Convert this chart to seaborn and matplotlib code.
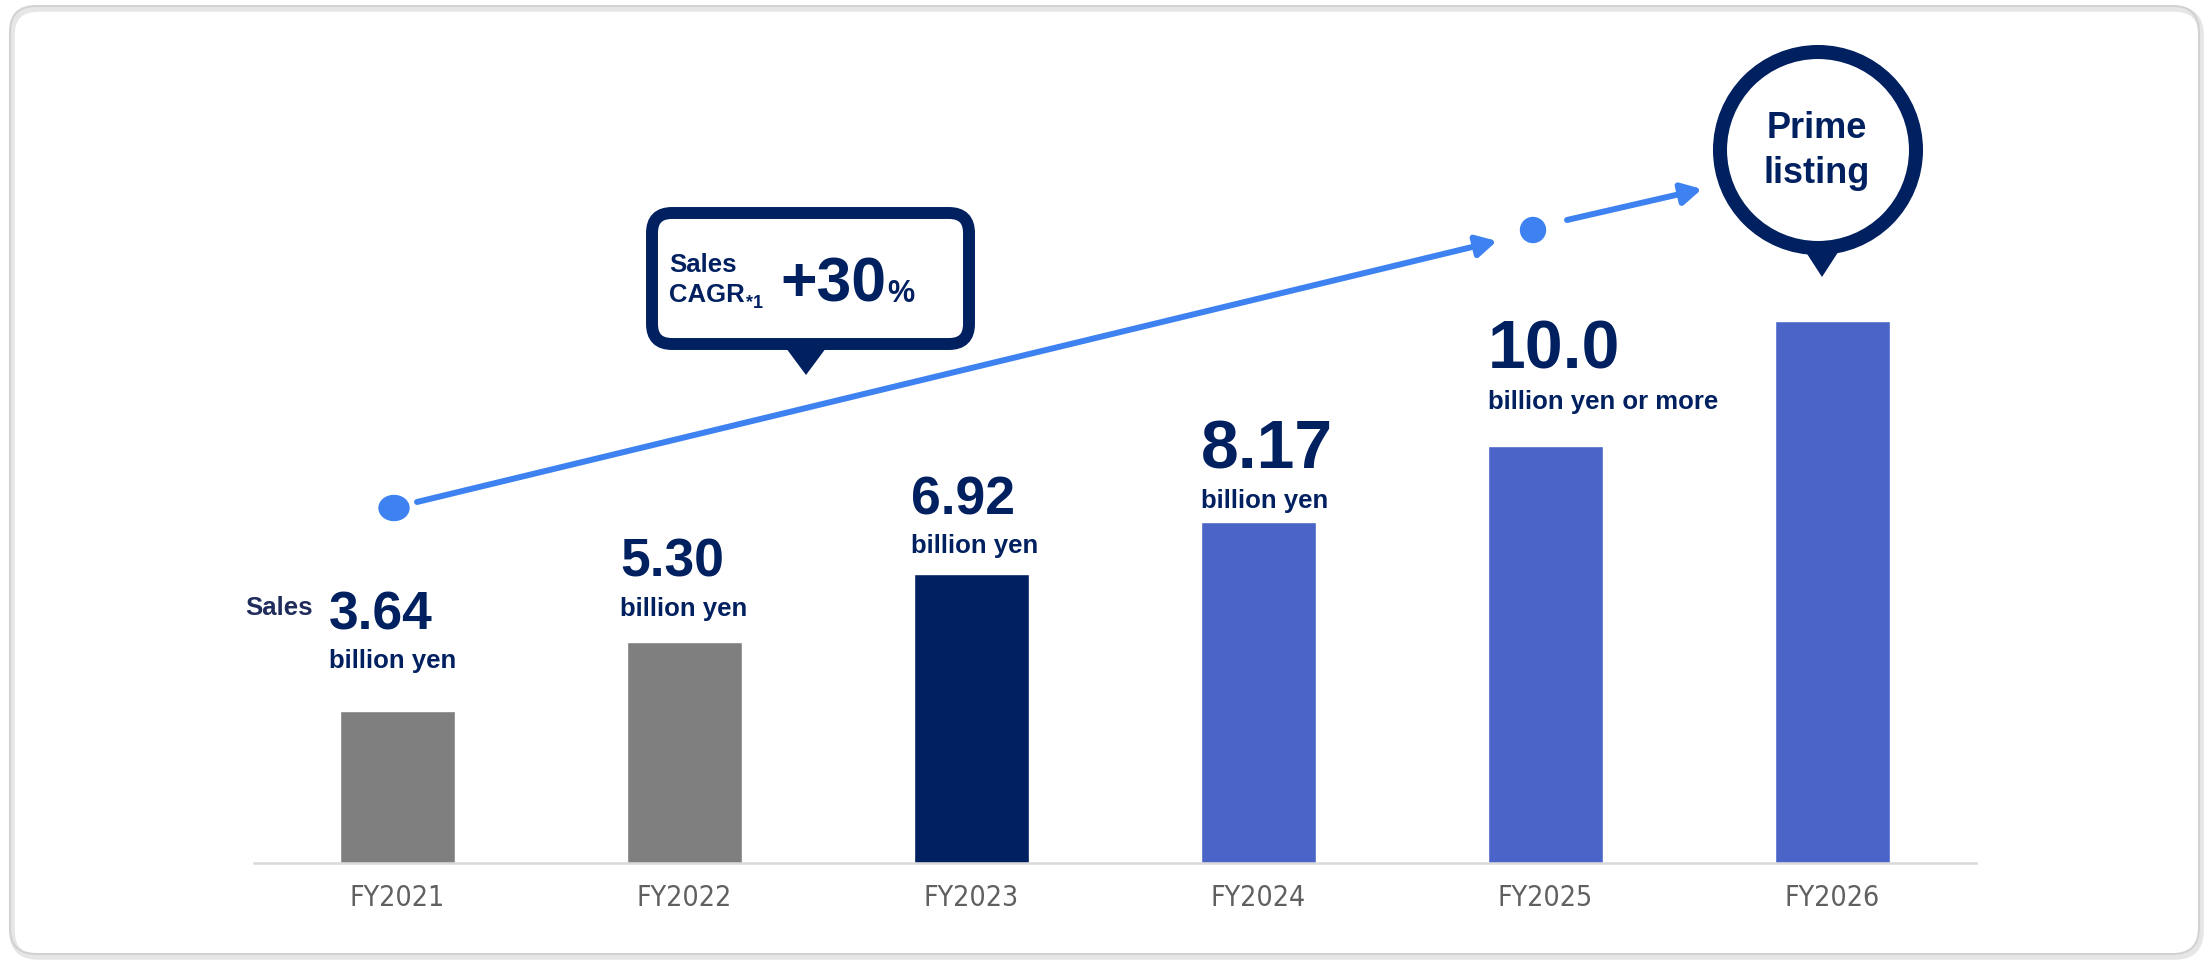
import matplotlib
matplotlib.use("Agg")
import matplotlib.pyplot as plt
import matplotlib.font_manager as fm
import seaborn as sns
from matplotlib.patches import FancyBboxPatch, Circle, Ellipse, Polygon, FancyArrowPatch, ArrowStyle

# ---- data ----
years = ["FY2021", "FY2022", "FY2023", "FY2024", "FY2025", "FY2026"]
sales = [3.64, 5.30, 6.92, 8.17, 10.0, 13.0]          # billion yen
value_labels = ["3.64", "5.30", "6.92", "8.17", "10.0"]
unit_labels = ["billion yen", "billion yen", "billion yen", "billion yen", "billion yen or more"]
bar_colors = ["#7f7f7f", "#7f7f7f", "#002060", "#4a64c8", "#4a64c8", "#4a64c8"]

# ---- style ----
NAVY = "#002060"
BLUE = "#3d82f0"
sns.set_style("white")
plt.rcParams["font.family"] = ["Liberation Sans", "DejaVu Sans"]


def narrow_font_path():
    """Pick an installed narrow/condensed regular sans face for the category axis."""
    preferred = ["liberation sans narrow", "noto sans", "dejavu sans", "roboto", "open sans", "lato"]
    best = None
    for f in fm.fontManager.ttflist:
        name = f.name.lower()
        fname = f.fname.lower()
        narrow = ("narrow" in name or "condensed" in name or "narrow" in fname
                  or ("condensed" in fname and "semicondensed" not in fname
                      and "extracondensed" not in fname)
                  or f.stretch == "condensed")
        if not narrow or f.style != "normal":
            continue
        try:
            w = int(f.weight)
        except (TypeError, ValueError):
            w = fm.weight_dict.get(str(f.weight), 400)
        if w != 400 or "bold" in fname or "italic" in fname or "light" in fname:
            continue
        rank = next((i for i, p in enumerate(preferred) if name.startswith(p)), len(preferred))
        if best is None or rank < best[0]:
            best = (rank, f.fname)
    return best[1] if best else None


W, H = 2211, 961
fig = plt.figure(figsize=(W / 100, H / 100), dpi=100)
fig.patch.set_facecolor("white")

# bar axes (baseline at y=863 px, 287 px per category)
PX_PER_UNIT = 41.7
ax = fig.add_axes([254 / W, 98 / H, 1722 / W, 863 / H])
ax.patch.set_alpha(0)
sns.barplot(x=years, y=sales, hue=years, palette=bar_colors, width=0.4,
            saturation=1, legend=False, errorbar=None, ax=ax)
ax.set_xlim(-0.5, 5.5)
ax.set_ylim(0, 863 / PX_PER_UNIT)
for side in ("left", "right", "top"):
    ax.spines[side].set_visible(False)
ax.spines["bottom"].set_color("#d9d9d9")
ax.spines["bottom"].set_linewidth(1.8)
ax.set_yticks([])
ax.set_xlabel("")
ax.set_ylabel("")
ax.tick_params(axis="x", length=0, pad=15, labelcolor="#606060")

# category labels in a narrow face, sized so "FY2021" is about 95 px wide
path = narrow_font_path()
if path:
    tick_fp = fm.FontProperties(fname=path)
else:
    tick_fp = fm.FontProperties(family=["Liberation Sans", "DejaVu Sans"])
renderer = fig.canvas.get_renderer()
tick_fp.set_size(20)
probe = fig.text(0, 0, "FY2021", fontproperties=tick_fp)
width20 = probe.get_window_extent(renderer).width
probe.remove()
tick_size = min(24.0, max(18.0, 20 * 95.0 / width20))
tick_fp.set_size(tick_size)
for lbl in ax.get_xticklabels():
    lbl.set_fontproperties(tick_fp)

# value labels above the bars
value_sizes = [38.5, 38.5, 38.5, 49, 49]
value_lift = [1.95, 1.56, 1.43, 1.30, 1.87]
unit_lift = [1.04, 0.62, 0.51, 0.34, 0.89]
label_dx = [-0.04, -0.025, -0.01, 0.0, 0.0]
for i, (v, t, u) in enumerate(zip(sales, value_labels, unit_labels)):
    x = i - 0.2 + label_dx[i]
    ax.text(x, v + value_lift[i], t, fontsize=value_sizes[i], fontweight="bold",
            color=NAVY, ha="left", va="baseline")
    ax.text(x, v + unit_lift[i], u, fontsize=18.5, fontweight="bold",
            color=NAVY, ha="left", va="baseline")

# overlay in pixel coordinates for the card, callouts and trend arrow
ov = fig.add_axes([0, 0, 1, 1])
ov.set_xlim(0, W)
ov.set_ylim(H, 0)
ov.axis("off")
ov.set_zorder(2)
ov.patch.set_alpha(0)

# card outline with soft shadow
ov.add_patch(FancyBboxPatch((12, 9), 2189, 948, boxstyle="round,pad=0,rounding_size=26",
                            fc="none", ec="#e6e6e6", lw=4))
ov.add_patch(FancyBboxPatch((10, 6), 2189, 948, boxstyle="round,pad=0,rounding_size=26",
                            fc="none", ec="#d2d2d2", lw=1.5))

ov.text(245, 615, "Sales", fontsize=18.5, fontweight="bold", color="#1f2c5c",
        ha="left", va="baseline")

# trend arrow
ov.add_patch(Ellipse((394, 508), 30, 25, color=BLUE))
ov.add_patch(FancyArrowPatch((417, 502), (1497, 241),
                             arrowstyle=ArrowStyle("-|>", head_length=12, head_width=6.5),
                             mutation_scale=1, lw=4.3, color=BLUE, shrinkA=0, shrinkB=0))
ov.add_patch(Circle((1533, 230), 12.5, color=BLUE))
ov.add_patch(FancyArrowPatch((1567, 220), (1702, 189),
                             arrowstyle=ArrowStyle("-|>", head_length=12, head_width=6.5),
                             mutation_scale=1, lw=4.3, color=BLUE, shrinkA=0, shrinkB=0))

# CAGR callout
ov.add_patch(FancyBboxPatch((652, 213), 317, 131, boxstyle="round,pad=0,rounding_size=20",
                            fc="white", ec=NAVY, lw=8.6))
ov.add_patch(Polygon([(783, 344), (829, 344), (806, 375)], closed=True, fc=NAVY, ec="none"))
ov.text(669, 272, "Sales", fontsize=18.5, fontweight="bold", color=NAVY, va="baseline")
ov.text(669, 302, "CAGR", fontsize=18.5, fontweight="bold", color=NAVY, va="baseline")
ov.text(746, 308, "*1", fontsize=13, fontweight="bold", color=NAVY, va="baseline")
ov.text(780, 302, "+30", fontsize=45, fontweight="bold", color=NAVY, va="baseline")
ov.text(887, 302, "%", fontsize=22, fontweight="bold", color=NAVY, va="baseline")

# Prime listing badge
ov.add_patch(Circle((1818, 150), 98, fc="white", ec=NAVY, lw=10.1))
ov.add_patch(Polygon([(1800, 243), (1844, 243), (1822, 277)], closed=True, fc=NAVY, ec="none"))
ov.text(1817, 138, "Prime", fontsize=26, fontweight="bold", color=NAVY, ha="center", va="baseline")
ov.text(1817, 183, "listing", fontsize=26, fontweight="bold", color=NAVY, ha="center", va="baseline")

fig.savefig("out.png", dpi=100)
